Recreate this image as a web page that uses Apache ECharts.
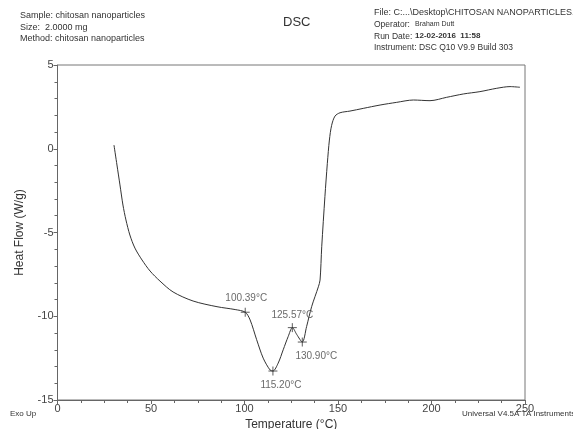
<!DOCTYPE html>
<html>
<head>
<meta charset="utf-8">
<script src="https://cdn.jsdelivr.net/npm/echarts@6/dist/echarts.min.js"></script>
<style>
  html, body { margin: 0; padding: 0; background: #fff; }
  #chart { width: 573px; height: 429px; }
</style>
</head>
<body>
<div id="chart"></div>
<script>
// DSC curve (temperature in °C, heat flow in W/g)
var temps = [30.2, 31.8, 33.4, 35.0, 36.6, 38.7, 41.4, 45.2, 49.5, 54.8, 61.8, 72.5, 85.3, 95.0, 100.4,
	103.0, 106.5, 110.0, 113.6, 115.2, 118.0, 120.7, 123.4, 125.6, 128.0, 130.9,
	133.2, 135.9, 139.5, 140.4, 141.3, 143.0, 144.3, 145.4, 146.6, 148.4, 151.1,
	156.4, 163.5, 172.5, 181.4, 190.3, 199.2, 208.1, 217.0, 225.9, 234.9, 242.0, 247.3]
var heatFlow = [0.22, -0.97, -2.16, -3.36, -4.25, -5.15, -5.93, -6.64, -7.3, -7.9, -8.55, -9.09, -9.43, -9.6, -9.76,
	-10.22, -11.4, -12.5, -13.2, -13.27, -12.8, -12.0, -11.2, -10.68, -11.1, -11.54,
	-10.62, -9.43, -8.24, -7.84, -5.85, -2.86, -0.87, 0.52, 1.4, 1.95, 2.15,
	2.25, 2.41, 2.61, 2.77, 2.91, 2.87, 3.07, 3.27, 3.41, 3.61, 3.71, 3.67]

// 标注的峰值点
var peakTemps = [100.39, 115.20, 125.57, 130.90]
var peakValues = [-9.76, -13.27, -10.68, -11.54]
var peakLabels = ['100.39°C', '115.20°C', '125.57°C', '130.90°C']

var xTicks = [0, 50, 100, 150, 200, 250]
var yTicks = [-15, -10, -5, 0, 5]

var curve = []
for (var i = 0; i < temps.length; i++) {
	curve.push([temps[i], heatFlow[i]])
}

// label placement for each peak
var labelPos = [
	{ position: 'top', offset: [1, 0], distance: 2 },
	{ position: 'bottom', offset: [8, 0], distance: 2 },
	{ position: 'top', offset: [0, 0], distance: 0 },
	{ position: 'bottom', offset: [14, 0], distance: 2 }
]
var peaks = []
for (var j = 0; j < peakTemps.length; j++) {
	peaks.push({
		value: [peakTemps[j], peakValues[j]],
		label: {
			show: true,
			formatter: peakLabels[j],
			position: labelPos[j].position,
			offset: labelPos[j].offset,
			distance: labelPos[j].distance,
			color: '#444',
			fontSize: 10,
			fontFamily: 'Liberation Sans'
		}
	})
}

var font = 'Liberation Sans'
var chart = echarts.init(document.getElementById('chart'))
var option = {
	animation: false,
	backgroundColor: '#fff',
	grid: {
		left: 57.5,
		right: 48,
		top: 65,
		bottom: 29,
		outerBoundsMode: 'none',
		containLabel: false,
		show: true,
		borderColor: '#777',
		borderWidth: 1
	},
	graphic: [
		{ type: 'text', left: 20, top: 10, style: { text: 'Sample: chitosan nanoparticles\nSize:  2.0000 mg\nMethod: chitosan nanoparticles', font: '9px Liberation Sans', fill: '#333', lineHeight: 11.5 } },
		{ type: 'text', left: 283, top: 16, style: { text: 'DSC', font: '13px Liberation Sans', fill: '#333' } },
		{ type: 'text', left: 374, top: 8, style: { text: 'File: C:...\\Desktop\\CHITOSAN NANOPARTICLES.001', font: '9px Liberation Sans', fill: '#333' } },
		{ type: 'text', left: 374, top: 20, style: { text: 'Operator:', font: '8.5px Liberation Sans', fill: '#333' } },
		{ type: 'text', left: 415, top: 21, style: { text: 'Braham Dutt', font: '7px Liberation Sans', fill: '#333' } },
		{ type: 'text', left: 374, top: 32, style: { text: 'Run Date:', font: '8.5px Liberation Sans', fill: '#333' } },
		{ type: 'text', left: 415, top: 32, style: { text: '12-02-2016  11:58', font: 'bold 8px Liberation Sans', fill: '#333' } },
		{ type: 'text', left: 374, top: 43, style: { text: 'Instrument: DSC Q10 V9.9 Build 303', font: '8.5px Liberation Sans', fill: '#333' } },
		{ type: 'text', left: 10, top: 410, style: { text: 'Exo Up', font: '8px Liberation Sans', fill: '#333' } },
		{ type: 'text', left: 462, top: 410, style: { text: 'Universal V4.5A TA Instruments', font: '8px Liberation Sans', fill: '#333' } }
	],
	xAxis: {
		type: 'value',
		min: 0,
		max: 250,
		interval: 50,
		name: 'Temperature (°C)',
		nameLocation: 'middle',
		nameGap: 15,
		nameTextStyle: { color: '#333', fontSize: 12, fontFamily: font },
		axisLine: { onZero: false, lineStyle: { color: '#666' } },
		axisTick: { show: true, inside: false, length: 4, lineStyle: { color: '#666' } },
		minorTick: { show: true, splitNumber: 4, length: 3, lineStyle: { color: '#666' } },
		axisLabel: {
			margin: 3, color: '#444', fontSize: 11, fontFamily: font,
			customValues: xTicks
		},
		splitLine: { show: false }
	},
	yAxis: {
		type: 'value',
		min: -15,
		max: 5,
		interval: 5,
		name: 'Heat Flow (W/g)',
		nameLocation: 'middle',
		nameGap: 32,
		nameTextStyle: { color: '#333', fontSize: 12, fontFamily: font },
		axisLine: { show: true, onZero: false, lineStyle: { color: '#666' } },
		axisTick: { show: true, inside: false, length: 4, lineStyle: { color: '#666' } },
		minorTick: { show: true, splitNumber: 5, length: 3, lineStyle: { color: '#666' } },
		axisLabel: {
			margin: 4, color: '#444', fontSize: 11, fontFamily: font,
			customValues: yTicks
		},
		splitLine: { show: false }
	},
	series: [
		{
			type: 'line',
			data: curve,
			smooth: 0.3,
			showSymbol: false,
			lineStyle: { color: '#333', width: 1 },
			z: 2
		},
		{
			type: 'scatter',
			data: peaks,
			symbol: 'path://M0,5 L10,5 M5,0 L5,10',
			symbolSize: 9,
			itemStyle: { color: 'none', borderColor: '#333', borderWidth: 1 },
			z: 3
		}
	]
}
chart.setOption(option)
</script>
</body>
</html>
